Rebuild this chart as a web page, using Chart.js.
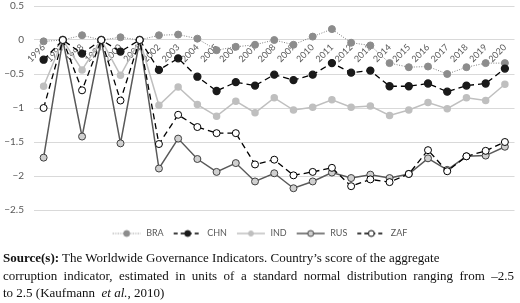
<!DOCTYPE html>
<html>
<head>
<meta charset="utf-8">
<script src="https://cdn.jsdelivr.net/npm/chart.js@4"></script>
<style>
  body { margin: 0; background: #fff; }
  #wrap { position: relative; width: 520px; height: 303px; }
  #myChart { position: absolute; left: 0; top: 0; }
  .source {
    position: absolute; left: 3px; top: 249px;
    font-family: "Liberation Serif", "Times New Roman", serif;
    font-size: 13px; line-height: 17.5px; color: #111;
    white-space: nowrap;
  }
  .source div { height: 17.5px; }
  .j { text-align: justify; text-align-last: justify; }
</style>
</head>
<body>
<div id="wrap">
  <canvas id="myChart" width="520" height="250"></canvas>
  <div class="source">
    <div><b>Source(s):</b> The Worldwide Governance Indicators. Country’s score of the aggregate</div>
    <div class="j" style="width:511px">corruption indicator, estimated in units of a standard normal distribution ranging from –2.5</div>
    <div>to 2.5 (Kaufmann &nbsp;<i>et al.</i>, 2010)</div>
  </div>
</div>
<script>
'use strict';

// lata (osie X)
var years = ['1996', '1997', '1998', '1999', '2000', '2001', '2002', '2003', '2004', '2005',
  '2006', '2007', '2008', '2009', '2010', '2011', '2012', '2013', '2014', '2015',
  '2016', '2017', '2018', '2019', '2020'];

// serie danych
var bra = [-0.02, 0, 0.07, 0, 0.04, 0, 0.07, 0.08, 0.02, -0.15, -0.10, -0.07, 0.0, -0.07, 0.05, 0.16,
  -0.04, -0.08, -0.34, -0.40, -0.39, -0.50, -0.40, -0.34, -0.34];
var chn = [-0.29, 0, -0.20, 0, -0.17, 0, -0.44, -0.27, -0.54, -0.75, -0.62, -0.67, -0.51, -0.59, -0.51, -0.34,
  -0.48, -0.45, -0.68, -0.68, -0.64, -0.76, -0.67, -0.64, -0.42];
var ind = [-0.68, 0, -0.44, 0, -0.52, 0, -0.96, -0.69, -0.95, -1.12, -0.90, -1.07, -0.85, -1.03, -0.99, -0.88,
  -0.99, -0.97, -1.11, -1.03, -0.92, -1.01, -0.85, -0.89, -0.65];
var rus = [-1.73, 0, -1.42, 0, -1.52, 0, -1.89, -1.45, -1.75, -1.94, -1.81, -2.08, -1.96, -2.18, -2.08, -1.95,
  -2.03, -1.98, -2.03, -1.97, -1.74, -1.91, -1.71, -1.70, -1.57];
var zaf = [-1.00, 0, -0.74, 0, -0.89, 0, -1.53, -1.10, -1.28, -1.37, -1.37, -1.83, -1.76, -1.99, -1.94, -1.88,
  -2.15, -2.05, -2.09, -1.97, -1.62, -1.93, -1.71, -1.63, -1.50];

// ikonki legendy: linia + znacznik
function legendIcon(lineColor, dash, lineWidth, fill, stroke, r) {
  var c = document.createElement('canvas');
  c.width = 30; c.height = 10;
  var g = c.getContext('2d');
  g.strokeStyle = lineColor;
  g.lineWidth = lineWidth;
  g.setLineDash(dash);
  g.beginPath(); g.moveTo(1, 5); g.lineTo(29, 5); g.stroke();
  g.setLineDash([]);
  g.beginPath(); g.arc(15, 5, r, 0, Math.PI * 2);
  g.fillStyle = fill; g.fill();
  g.strokeStyle = stroke; g.lineWidth = 1; g.stroke();
  return c;
}
var icons = [
  legendIcon('#7f7f7f', [1, 1.5], 1, '#8c8c8c', '#8c8c8c', 3),
  legendIcon('#000', [4, 3], 1.3, '#1a1a1a', '#1a1a1a', 3),
  legendIcon('#bfbfbf', [], 1.5, '#bfbfbf', '#bfbfbf', 2.5),
  legendIcon('#595959', [], 1.5, '#d0d0d0', '#404040', 3),
  legendIcon('#000', [4, 3], 1.3, '#ffffff', '#000', 3)
];

// przesuwam legendę nieco w dół
var legendShift = {
  id: 'legendShift',
  afterLayout: function(chart) {
    chart.legend.top += 10;
    chart.legend.bottom += 10;
  }
};

Chart.defaults.font.family = 'Lato, "Open Sans", sans-serif';
Chart.defaults.color = '#595959';

var ctx = document.getElementById('myChart').getContext('2d');
var chart = new Chart(ctx, {
  type: 'line',
  plugins: [legendShift],
  data: {
    labels: years,
    datasets: [{
      label: 'BRA', data: bra, order: 5,
      borderColor: '#7f7f7f', borderWidth: 1, borderDash: [1, 1.5],
      pointBackgroundColor: '#8c8c8c', pointBorderColor: '#8c8c8c', pointRadius: 3.5
    }, {
      label: 'CHN', data: chn, order: 4,
      borderColor: '#000', borderWidth: 1.3, borderDash: [6, 4],
      pointBackgroundColor: '#1a1a1a', pointBorderColor: '#1a1a1a', pointRadius: 3.5
    }, {
      label: 'IND', data: ind, order: 3,
      borderColor: '#bfbfbf', borderWidth: 1.5,
      pointBackgroundColor: '#bfbfbf', pointBorderColor: '#bfbfbf', pointRadius: 3
    }, {
      label: 'RUS', data: rus, order: 2,
      borderColor: '#595959', borderWidth: 1.5,
      pointBackgroundColor: '#d0d0d0', pointBorderColor: '#404040', pointBorderWidth: 1, pointRadius: 3.5
    }, {
      label: 'ZAF', data: zaf, order: 1,
      borderColor: '#000', borderWidth: 1.3, borderDash: [6, 4],
      pointBackgroundColor: '#ffffff', pointBorderColor: '#000', pointBorderWidth: 1, pointRadius: 3.5
    }]
  },
  options: {
    responsive: false,
    animation: false,
    devicePixelRatio: 1,
    layout: { padding: { top: 0, right: 1, bottom: 12, left: 0 } },
    plugins: {
      tooltip: { enabled: false },
      legend: {
        position: 'bottom',
        labels: {
          usePointStyle: true,
          pointStyleWidth: 30,
          padding: 9,
          font: { size: 9 },
          color: '#595959',
          generateLabels: function(chart) {
            var items = Chart.defaults.plugins.legend.labels.generateLabels(chart);
            items.forEach(function(it) { it.pointStyle = icons[it.datasetIndex]; });
            return items.sort(function(a, b) { return a.datasetIndex - b.datasetIndex; });
          }
        }
      }
    },
    scales: {
      x: {
        position: { y: 0 },
        offset: true,
        grid: { display: false, drawTicks: false },
        border: { display: false },
        ticks: { autoSkip: false, minRotation: 45, maxRotation: 45, padding: 2, font: { size: 9 } }
      },
      y: {
        min: -2.5, max: 0.5,
        grid: { color: '#d9d9d9', drawTicks: true, tickLength: 10, tickColor: 'rgba(0,0,0,0)' },
        border: { display: false },
        afterFit: function(scale) { scale.width = 34; },
        ticks: {
          stepSize: 0.5, padding: 0, font: { size: 10 },
          callback: function(v) { return String(v).replace('-', '\u2212'); }
        }
      }
    }
  }
});
</script>
</body>
</html>
